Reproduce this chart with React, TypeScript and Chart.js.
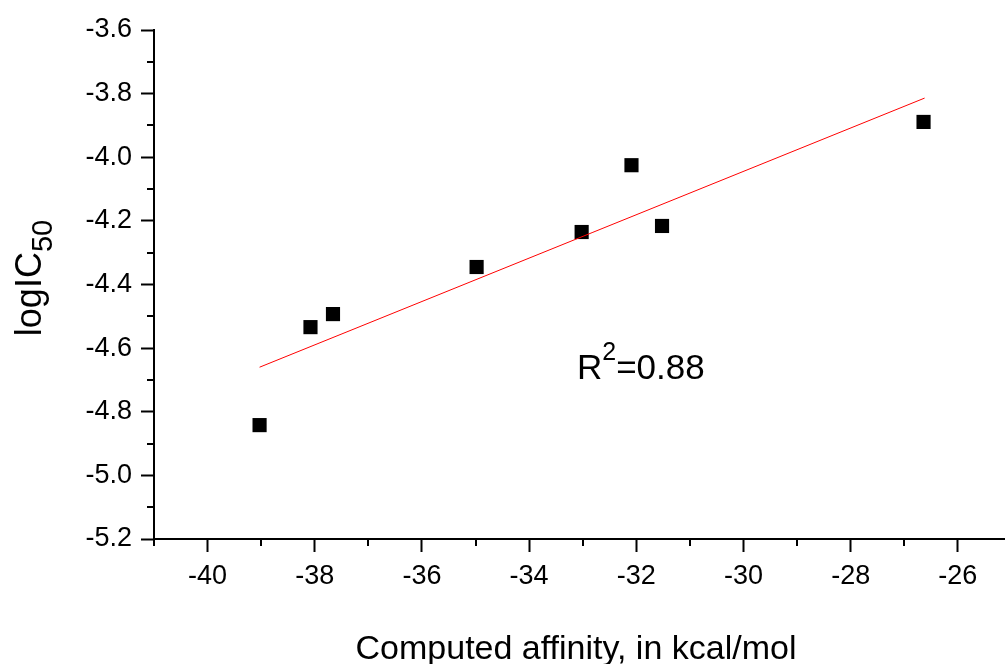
import React, { useEffect, useRef } from "react";
import { Chart, registerables } from "chart.js";

Chart.register(...registerables);

const affinity = [-39.03, -38.08, -37.66, -34.98, -33.02, -32.09, -31.52, -26.64];
const logIC50 = [-4.842, -4.534, -4.493, -4.345, -4.235, -4.025, -4.216, -3.889];
const fitX = [-39.03, -26.62];
const fitY = [-4.66, -3.814];
const xTicks = [-40, -38, -36, -34, -32, -30, -28, -26];
const xMinorTicks = [-41, -39, -37, -35, -33, -31, -29, -27, -25];
const yTicks = [-3.6, -3.8, -4.0, -4.2, -4.4, -4.6, -4.8, -5.0, -5.2];
const yMinorTicks = [-3.7, -3.9, -4.1, -4.3, -4.5, -4.7, -4.9, -5.1];
const xRange = [-41, -25.12];
const yRange = [-5.2, -3.6];
const xTitle = "Computed affinity, in kcal/mol";
const yTitleMain = "logIC";
const yTitleSub = "50";
const annotation = ["R", "2", "=0.88"];

const FONT = "'Liberation Sans', Arial, sans-serif";

const decorPlugin = {
  id: "decor",
  afterDraw(chart: any) {
    const ctx = chart.ctx;
    const xs = chart.scales.x;
    const ys = chart.scales.y;
    const area = chart.chartArea;
    ctx.save();
    ctx.strokeStyle = "#000";
    ctx.lineWidth = 2;
    ctx.beginPath();
    for (const v of xMinorTicks) {
      const px = Math.round(xs.getPixelForValue(v));
      if (px < area.left - 1 || px > area.right + 1) continue;
      ctx.moveTo(px, area.bottom);
      ctx.lineTo(px, area.bottom + 7);
    }
    for (const v of yMinorTicks) {
      const py = Math.round(ys.getPixelForValue(v));
      ctx.moveTo(area.left, py);
      ctx.lineTo(area.left - 7, py);
    }
    ctx.stroke();

    ctx.fillStyle = "#000";
    // x title
    ctx.font = `34px ${FONT}`;
    ctx.textAlign = "center";
    ctx.textBaseline = "alphabetic";
    ctx.fillText(xTitle, 576, 659);

    // y title
    ctx.save();
    ctx.translate(41, 278);
    ctx.rotate(-Math.PI / 2);
    ctx.font = `36px ${FONT}`;
    const w1 = ctx.measureText(yTitleMain).width;
    ctx.font = `29px ${FONT}`;
    const w2 = ctx.measureText(yTitleSub).width;
    const start = -(w1 + w2) / 2;
    ctx.textAlign = "left";
    ctx.font = `36px ${FONT}`;
    ctx.fillText(yTitleMain, start, 0);
    ctx.font = `29px ${FONT}`;
    ctx.fillText(yTitleSub, start + w1, 11);
    ctx.restore();

    // R^2 annotation
    ctx.textAlign = "left";
    ctx.font = `35px ${FONT}`;
    let x0 = 577;
    const base = 379;
    ctx.fillText(annotation[0], x0, base);
    x0 += ctx.measureText(annotation[0]).width;
    ctx.font = `25px ${FONT}`;
    ctx.fillText(annotation[1], x0, base - 19);
    x0 += ctx.measureText(annotation[1]).width;
    ctx.font = `35px ${FONT}`;
    ctx.fillText(annotation[2], x0, base);
    ctx.restore();
  },
};

export default function App() {
  const ref = useRef<HTMLCanvasElement | null>(null);
  useEffect(() => {
    if (!ref.current) return;
    const chart = new Chart(ref.current, {
      type: "scatter",
      data: {
        datasets: [
          {
            type: "line",
            data: fitX.map((x, i) => ({ x, y: fitY[i] })),
            borderColor: "#ff0000",
            borderWidth: 1,
            pointRadius: 0,
            fill: false,
          },
          {
            type: "scatter",
            data: affinity.map((x, i) => ({ x, y: logIC50[i] })),
            pointStyle: "rect",
            pointRadius: 10,
            backgroundColor: "#000",
            borderColor: "#000",
            borderWidth: 0,
          },
        ],
      },
      options: {
        animation: false,
        responsive: false,
        maintainAspectRatio: false,
        layout: { autoPadding: false, padding: { top: 30, right: 0, left: 0, bottom: 0 } },
        plugins: { legend: { display: false }, tooltip: { enabled: false } },
        scales: {
          x: {
            type: "linear",
            min: xRange[0],
            max: xRange[1],
            afterBuildTicks: (s: any) => {
              s.ticks = xTicks.map((v) => ({ value: v }));
            },
            afterFit: (s: any) => {
              s.height = 125;
              s.paddingRight = 0;
              s.paddingLeft = 0;
            },
            grid: {
              drawOnChartArea: false,
              drawTicks: true,
              tickLength: 13,
              tickWidth: 2,
              tickColor: "#000",
            },
            border: { display: true, color: "#000", width: 2 },
            ticks: {
              color: "#000",
              font: { family: FONT, size: 27 },
              padding: 8,
              maxRotation: 0,
              autoSkip: false,
              callback: (v: any) => String(v),
            },
          },
          y: {
            type: "linear",
            min: yRange[0],
            max: yRange[1],
            afterBuildTicks: (s: any) => {
              s.ticks = yTicks.map((v) => ({ value: v }));
            },
            afterFit: (s: any) => {
              s.width = 154;
              s.paddingTop = 0;
              s.paddingBottom = 0;
            },
            grid: {
              drawOnChartArea: false,
              drawTicks: true,
              tickLength: 13,
              tickWidth: 2,
              tickColor: "#000",
            },
            border: { display: true, color: "#000", width: 2 },
            ticks: {
              color: "#000",
              font: { family: FONT, size: 27 },
              padding: 9,
              autoSkip: false,
              callback: (v: any) => Number(v).toFixed(1),
            },
          },
        },
      },
      plugins: [decorPlugin],
    } as any);
    return () => chart.destroy();
  }, []);
  return (
    <div style={{ position: "absolute", left: 0, top: 0, width: 1005, height: 664, background: "#fff" }}>
      <canvas ref={ref} width={1005} height={664} style={{ width: 1005, height: 664 }} />
    </div>
  );
}
